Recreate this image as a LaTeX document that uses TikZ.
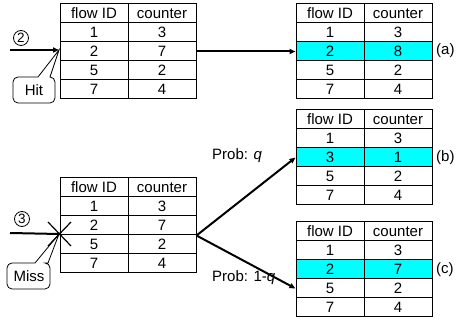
\documentclass[tikz,border=0pt]{standalone}
\usepackage{fontspec}
\setmainfont{Liberation Sans}
\usetikzlibrary{arrows.meta}
\definecolor{hlcyan}{HTML}{00FFFF}
\tikzset{
  cell/.style={draw, line width=1pt, minimum width=68pt, minimum height=19pt, inner sep=0pt,
    font=\fontsize{15}{17}\selectfont, text height=10.5pt, text depth=0pt},
  hl/.style={fill=hlcyan},
  nohl/.style={},
  flowarrow/.style={line width=2pt, -{Triangle[length=6pt,width=5pt]}},
  thinline/.style={line width=0.8pt},
  lbl/.style={font=\fontsize{15}{17}\selectfont, inner sep=0pt},
  circnum/.style={circle, draw, line width=0.8pt, inner sep=0pt, minimum size=15pt, font=\fontsize{13.5}{14}\selectfont},
  callouttext/.style={inner sep=0pt, font=\fontsize{15}{17}\selectfont}
}
\newcommand\flowtable[5]{%
  \node[cell] (#1-0-1) at ({#2+34},{#3+9.5}) {flow ID};
  \node[cell] (#1-0-2) at ({#2+102},{#3+9.5}) {counter};
  \foreach \a/\b [count=\i] in {#4} {%
    \ifnum\i=#5\relax\def\cf{hl}\else\def\cf{nohl}\fi
    \node[cell,\cf] (#1-\i-1) at ({#2+34},{#3+19*\i+9.5}) {\a};
    \node[cell,\cf] (#1-\i-2) at ({#2+102},{#3+19*\i+9.5}) {\b};
  }%
}
\begin{document}
\begin{tikzpicture}[x=1pt,y=-1pt]
\useasboundingbox (0,0) rectangle (456,320);
% tables
\flowtable{hitT}{60}{4}{1/3,2/7,5/2,7/4}{0}
\flowtable{aT}{296}{4}{1/3,2/8,5/2,7/4}{2}
\flowtable{missT}{60}{178}{1/3,2/7,5/2,7/4}{0}
\flowtable{bT}{296}{110}{1/3,3/1,5/2,7/4}{2}
\flowtable{cT}{296}{222}{1/3,2/7,5/2,7/4}{2}
% labels
\node[lbl, anchor=west] (la) at (436,51) {(a)};
\node[lbl, anchor=west] (lb) at (436,158) {(b)};
\node[lbl, anchor=west] (lc) at (436,270) {(c)};
\node[lbl, anchor=west] (pq) at (212,156) {Prob: \textit{q}};
\node[lbl, anchor=west] (p1q) at (212,278) {Prob: 1-\textit{q}};
% hit case
\coordinate (in2) at (10,50);
\coordinate (hittip) at (59,50);
\draw[flowarrow] (in2) -- (hittip);
\node[circnum] (c2) at (21,38) {2};
\node[callouttext] (hit) at (34,90) {Hit};
\draw[thinline] (38,77) -- (hittip) -- (50,77) [rounded corners=5pt] -- (55,77) -- (55,103) -- (13,103) -- (13,77) -- (38,77);
\draw[flowarrow] (hitT-2-2.east) -- (aT-2-1.west);
% miss case
\coordinate (in3) at (10,233);
\coordinate (misspt) at (59,234);
\draw[line width=2pt] (in3) -- (misspt);
\draw[line width=1.2pt] (48,222) -- (71,246) (71,222) -- (48,246);
\node[circnum] (c3) at (22,219) {3};
\node[callouttext] (miss) at (29,276) {Miss};
\draw[thinline] (35,263) -- (misspt) -- (48,263) [rounded corners=5pt] -- (50,263) -- (50,289) -- (7,289) -- (7,263) -- (35,263);
% fork
\coordinate (fork) at (missT-2-2.south east);
\draw[flowarrow] (fork) -- (bT-2-1.west);
\draw[flowarrow] (fork) -- (cT-3-1.west);
\end{tikzpicture}
\end{document}
